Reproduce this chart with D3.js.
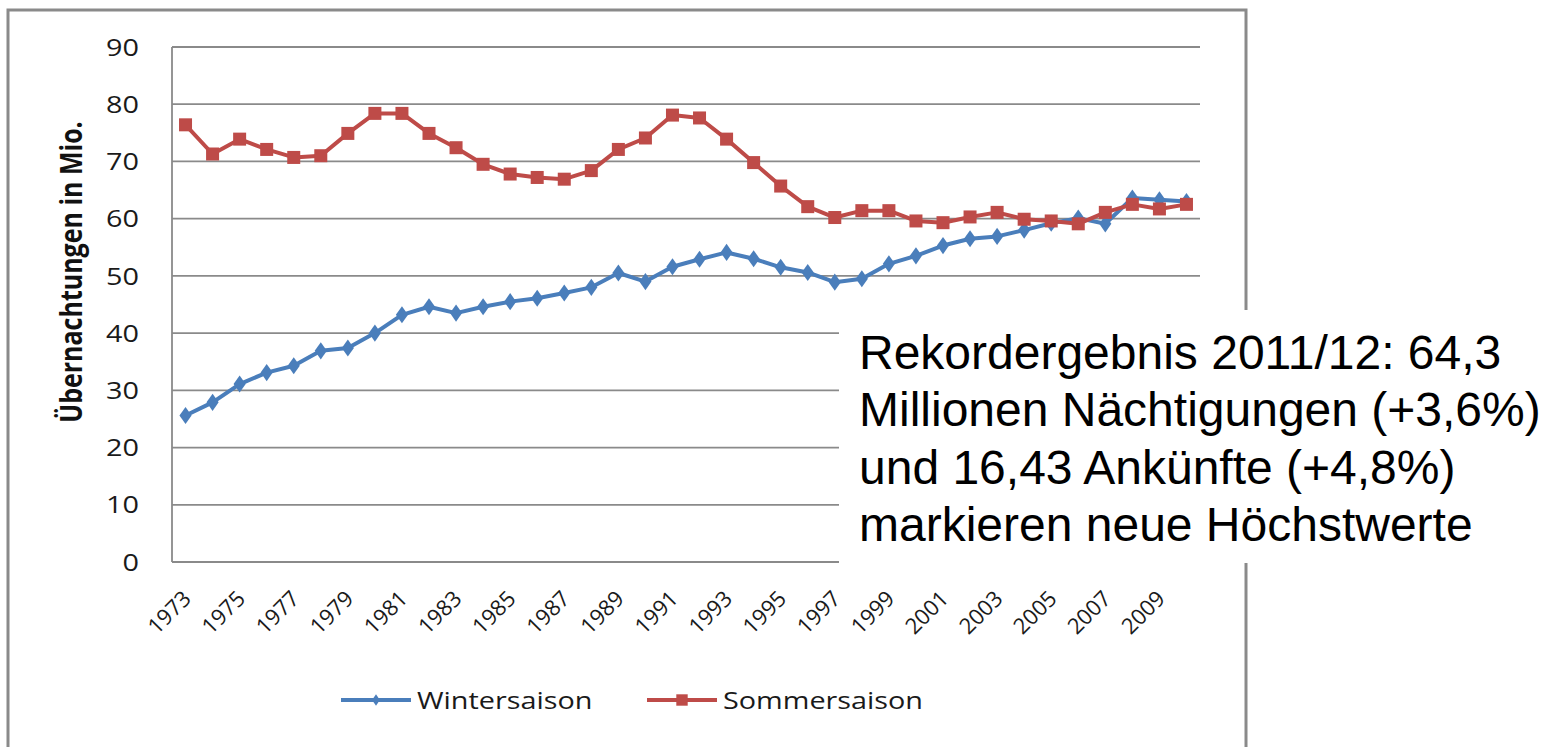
<!DOCTYPE html>
<html>
<head>
<meta charset="utf-8">
<script src="https://cdn.jsdelivr.net/npm/d3@7"></script>
<style>
  body { margin: 0; background: #fff; }
  svg { display: block; }
</style>
</head>
<body>
<div id="chart"></div>
<script>
// data
const years = d3.range(1973, 2011).map(String)
const winter = [25.6, 27.9, 31.1, 33.1, 34.3, 36.9, 37.4, 40.0, 43.2, 44.6,
  43.5, 44.6, 45.5, 46.1, 47.0, 48.0, 50.5, 49.0, 51.6, 52.9,
  54.1, 53.0, 51.5, 50.6, 48.9, 49.5, 52.1, 53.5, 55.3, 56.5,
  56.9, 58.0, 59.2, 60.1, 59.1, 63.6, 63.3, 63.0]
const summer = [76.4, 71.3, 73.9, 72.1, 70.7, 71.0, 74.9, 78.4, 78.4, 74.9,
  72.4, 69.5, 67.8, 67.2, 66.9, 68.4, 72.1, 74.1, 78.1, 77.6,
  73.9, 69.8, 65.7, 62.1, 60.2, 61.4, 61.4, 59.6, 59.3, 60.3,
  61.1, 59.9, 59.6, 59.1, 61.1, 62.5, 61.7, 62.5]
const yTicks = [0, 10, 20, 30, 40, 50, 60, 70, 80, 90]
const seriesNames = ["Wintersaison", "Sommersaison"]
const noteLines = [
  "Rekordergebnis 2011/12: 64,3",
  "Millionen Nächtigungen (+3,6%)",
  "und 16,43 Ankünfte (+4,8%)",
  "markieren neue Höchstwerte"
]

const width = 1552
const height = 747
const plot = { left: 172, right: 1200, top: 47, bottom: 562 }
const blue = "#4a7ebb"
const red = "#be4b48"
const gridColor = "#8a8a8a"
const font = "'Open Sans', sans-serif"
// the source picture is stretched sideways, so its text is too
const stretch = 1.2

const svg = d3.select("#chart").append("svg")
  .attr("width", width)
  .attr("height", height)

// outer chart frame
svg.append("rect")
  .attr("x", 8).attr("y", 10)
  .attr("width", 1238).attr("height", 760)
  .attr("fill", "none")
  .attr("stroke", "#8a8a8a")
  .attr("stroke-width", 3)

const xScale = d3.scaleBand()
  .domain(years)
  .range([plot.left, plot.right])

const yScale = d3.scaleLinear()
  .domain([0, 90])
  .range([plot.bottom, plot.top])

// grid lines
svg.append("g")
  .selectAll("line")
  .data(yTicks)
  .enter()
  .append("line")
  .attr("x1", plot.left)
  .attr("x2", plot.right)
  .attr("y1", d => yScale(d))
  .attr("y2", d => yScale(d))
  .attr("stroke", gridColor)
  .attr("stroke-width", 1.8)

// left axis line
svg.append("line")
  .attr("x1", plot.left).attr("x2", plot.left)
  .attr("y1", plot.top).attr("y2", plot.bottom)
  .attr("stroke", gridColor)
  .attr("stroke-width", 1.8)

// y tick labels
svg.append("g")
  .selectAll("g")
  .data(yTicks)
  .enter()
  .append("g")
  .attr("transform", d => "translate(139," + yScale(d) + ") scale(" + stretch + ",1)")
  .append("text")
  .attr("text-anchor", "end")
  .attr("dy", "0.36em")
  .attr("font-family", font)
  .attr("font-size", 24)
  .attr("fill", "#1a1a1a")
  .text(d => d)

// y axis title
svg.append("text")
  .attr("transform", "translate(82,272) scale(" + stretch + ",1) rotate(-90)")
  .attr("text-anchor", "middle")
  .attr("font-family", font)
  .attr("font-weight", "bold")
  .attr("font-size", 25)
  .attr("fill", "#111")
  .text("Übernachtungen in Mio.")

// x tick labels, every second year
svg.append("g")
  .selectAll("text")
  .data(years.filter((d, i) => i % 2 === 0))
  .enter()
  .append("text")
  .attr("transform", d => "translate(" + (xScale(d) + xScale.bandwidth() / 2 + 7) + ",600) rotate(-45)")
  .attr("text-anchor", "end")
  .attr("font-family", font)
  .attr("font-size", 22)
  .attr("fill", "#1a1a1a")
  .text(d => d)

const cx = (d, i) => xScale(years[i]) + xScale.bandwidth() / 2

const line = d3.line()
  .x(cx)
  .y(d => yScale(d))

// winter series
svg.append("path")
  .datum(winter)
  .attr("d", line)
  .attr("fill", "none")
  .attr("stroke", blue)
  .attr("stroke-width", 4)
  .attr("stroke-linejoin", "round")

svg.append("g")
  .selectAll("path")
  .data(winter)
  .enter()
  .append("path")
  .attr("d", d3.symbol().type(d3.symbolDiamond2).size(130))
  .attr("transform", (d, i) => "translate(" + cx(d, i) + "," + yScale(d) + ") scale(0.85,1.2)")
  .attr("fill", blue)

// summer series
svg.append("path")
  .datum(summer)
  .attr("d", line)
  .attr("fill", "none")
  .attr("stroke", red)
  .attr("stroke-width", 4)
  .attr("stroke-linejoin", "round")

svg.append("g")
  .selectAll("rect")
  .data(summer)
  .enter()
  .append("rect")
  .attr("x", (d, i) => cx(d, i) - 6.5)
  .attr("y", d => yScale(d) - 6.5)
  .attr("width", 13)
  .attr("height", 13)
  .attr("fill", red)

// legend
const legend = [
  { name: seriesNames[0], color: blue, x: 341 },
  { name: seriesNames[1], color: red, x: 647 }
]
const lg = svg.append("g")
  .selectAll("g")
  .data(legend)
  .enter()
  .append("g")
  .attr("transform", d => "translate(" + d.x + ",700)")

lg.append("line")
  .attr("x1", 0).attr("x2", 70)
  .attr("stroke", d => d.color)
  .attr("stroke-width", 4)

lg.append("path")
  .attr("d", (d, i) => i === 0
    ? d3.symbol().type(d3.symbolDiamond2).size(60)()
    : d3.symbol().type(d3.symbolSquare).size(130)())
  .attr("transform", (d, i) => i === 0 ? "translate(35,0) scale(0.8,1.2)" : "translate(35,0)")
  .attr("fill", d => d.color)

lg.append("g")
  .attr("transform", "translate(76,0) scale(" + stretch + ",1)")
  .append("text")
  .attr("dy", "0.36em")
  .attr("font-family", font)
  .attr("font-size", 24)
  .attr("fill", "#1a1a1a")
  .text(d => d.name)

// annotation box
svg.append("rect")
  .attr("x", 839).attr("y", 310)
  .attr("width", 713).attr("height", 253)
  .attr("fill", "#fff")

svg.append("g")
  .selectAll("text")
  .data(noteLines)
  .enter()
  .append("text")
  .attr("x", 859)
  .attr("y", (d, i) => 369 + i * 57.4)
  .attr("font-family", "'Liberation Sans', Arial, sans-serif")
  .attr("font-size", 48)
  .attr("fill", "#000")
  .text(d => d)
</script>
</body>
</html>
